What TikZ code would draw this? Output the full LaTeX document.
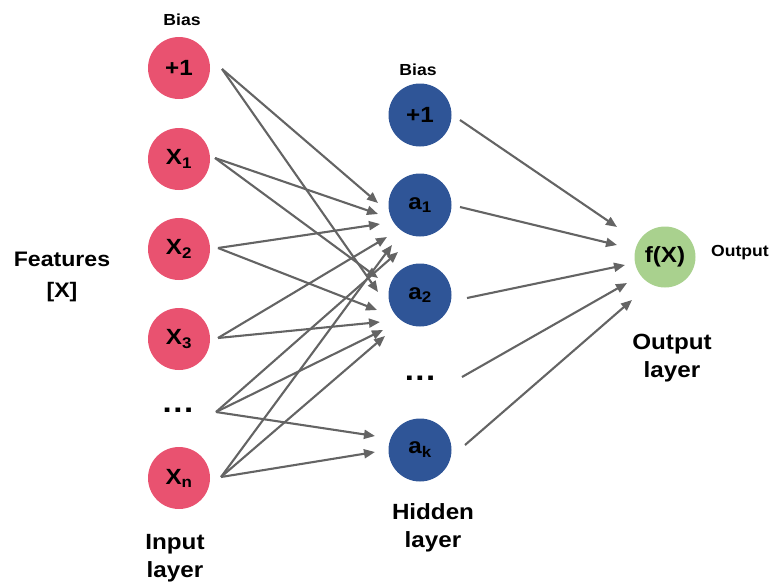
\documentclass[tikz,border=0pt]{standalone}
\usepackage{fontspec}
\setmainfont{Liberation Sans}[FakeStretch=1.1]
\usetikzlibrary{arrows.meta}
\definecolor{inpink}{RGB}{233,82,112}
\definecolor{hidblue}{RGB}{47,85,151}
\definecolor{outgreen}{RGB}{169,209,142}
\definecolor{arrgray}{RGB}{100,100,100}
\newcommand{\lblfont}{\fontsize{22}{26}\selectfont\bfseries}
\newcommand{\bigfont}{\fontsize{22}{28}\selectfont\bfseries}
\newcommand{\smallfont}{\fontsize{16}{19}\selectfont\bfseries}
\newcommand{\ddd}{.\hspace{1.5pt}.\hspace{1.5pt}.}
\begin{document}
\begin{tikzpicture}[x=1pt,y=-1pt,
  innode/.style={circle,fill=inpink,minimum size=62pt,inner sep=0pt,font=\lblfont},
  hidnode/.style={circle,fill=hidblue,minimum size=63pt,inner sep=0pt,font=\lblfont},
  outnode/.style={circle,fill=outgreen,minimum size=61pt,inner sep=0pt,font=\lblfont},
  dotsnode/.style={inner sep=0pt,font=\fontsize{30}{30}\selectfont\bfseries},
  arr/.style={draw=arrgray,line width=2.1pt,-{Triangle[length=11pt,width=9pt]}},
  lbl/.style={align=center,inner sep=0pt},
]
\useasboundingbox (0,0) rectangle (774,584);
% input layer
\node[innode] (in0) at (179,68) {+1};
\node[innode] (in1) at (179,159) {X\textsubscript{1}};
\node[innode] (in2) at (179,249) {X\textsubscript{2}};
\node[innode] (in3) at (179,339) {X\textsubscript{3}};
\node[dotsnode] (indots) at (178,410) {\ddd};
\node[innode] (inn) at (179,478) {X\textsubscript{n}};
% hidden layer
\node[hidnode] (h0) at (420,115) {+1};
\node[hidnode] (h1) at (420,205) {a\textsubscript{1}};
\node[hidnode] (h2) at (420,295) {a\textsubscript{2}};
\node[dotsnode] (hdots) at (420,378) {\ddd};
\node[hidnode] (hk) at (420,450) {a\textsubscript{k}};
% output
\node[outnode] (out) at (665,257) {f(X)};
% labels
\node[lbl,font=\smallfont] (bias1) at (182,20) {Bias};
\node[lbl,font=\smallfont] (bias2) at (418,70) {Bias};
\node[lbl,font=\smallfont] (outtxt) at (740,253) {Output};
\node[lbl,font=\fontsize{21}{31}\selectfont\bfseries] (feat) at (62,277) {Features\\{[X]}};
\node[lbl,font=\bigfont] (inlay) at (175,558) {Input\\layer};
\node[lbl,font=\bigfont] (hidlay) at (433,528) {Hidden\\layer};
\node[lbl,font=\bigfont] (outlay) at (672,358) {Output\\layer};
% input -> hidden
\draw[arr] ([shift={(43,1)}]in0.center) -- ([shift={(-42,-2)}]h1.center);
\draw[arr] ([shift={(43,1)}]in0.center) -- ([shift={(-42,-3)}]h2.center);
\draw[arr] ([shift={(36,-1)}]in1.center) -- ([shift={(-42,9)}]h1.center);
\draw[arr] ([shift={(36,-1)}]in1.center) -- ([shift={(-42,-17)}]h2.center);
\draw[arr] ([shift={(39,-1)}]in2.center) -- ([shift={(-40,19)}]h1.center);
\draw[arr] ([shift={(39,-1)}]in2.center) -- ([shift={(-43,15)}]h2.center);
\draw[arr] ([shift={(39,-1)}]in3.center) -- ([shift={(-33,32)}]h1.center);
\draw[arr] ([shift={(39,-1)}]in3.center) -- ([shift={(-40,27)}]h2.center);
\draw[arr] ([shift={(38,2)}]indots.center) -- ([shift={(-22,47)}]h1.center);
\draw[arr] ([shift={(38,2)}]indots.center) -- ([shift={(-37,35)}]h2.center);
\draw[arr] ([shift={(38,2)}]indots.center) -- ([shift={(-45,-14)}]hk.center);
\draw[arr] ([shift={(42,-1)}]inn.center) -- ([shift={(-28,40)}]h1.center);
\draw[arr] ([shift={(42,-1)}]inn.center) -- ([shift={(-35,41)}]h2.center);
\draw[arr] ([shift={(42,-1)}]inn.center) -- ([shift={(-45,2)}]hk.center);
% hidden -> output
\draw[arr] ([shift={(40,5)}]h0.center) -- ([shift={(-48,-30)}]out.center);
\draw[arr] ([shift={(40,2)}]h1.center) -- ([shift={(-48,-12)}]out.center);
\draw[arr] ([shift={(47,3)}]h2.center) -- ([shift={(-40,8)}]out.center);
\draw[arr] ([shift={(42,-1)}]hdots.center) -- ([shift={(-38,26)}]out.center);
\draw[arr] ([shift={(45,-5)}]hk.center) -- ([shift={(-33,43)}]out.center);
\end{tikzpicture}
\end{document}
